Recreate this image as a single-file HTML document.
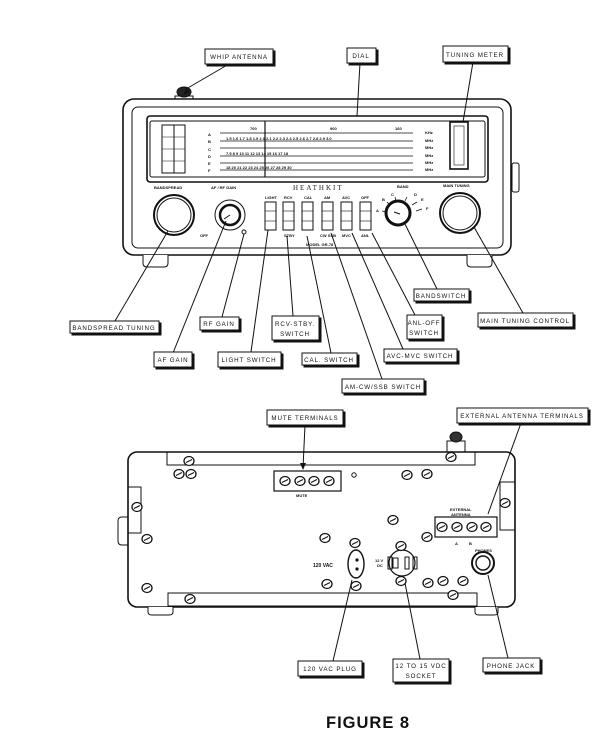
<!DOCTYPE html>
<html><head><meta charset="utf-8"><style>
html,body{margin:0;padding:0;background:#fff;}
svg{display:block;}
text{font-family:"Liberation Sans",sans-serif;}
.lb{font-size:6.2px;letter-spacing:0.9px;fill:#111;}
.sm{font-size:4px;font-weight:bold;fill:#111;}
</style></head><body>
<svg width="600" height="756" viewBox="0 0 600 756" xmlns="http://www.w3.org/2000/svg">
<defs>
<g id="scr"><ellipse rx="5" ry="4.5" fill="#fff" stroke="#111" stroke-width="1.3"/><line x1="-3" y1="1.5" x2="3" y2="-1.5" stroke="#111" stroke-width="1"/></g>
</defs>
<g fill="none" stroke="#111" stroke-width="1">
<!-- FRONT -->
<rect x="175" y="96" width="18" height="7" fill="#fff"/>
<ellipse cx="184" cy="92" rx="7" ry="5" fill="#222"/>
<rect x="123" y="99" width="388" height="156" rx="11" stroke-width="1.6" fill="#fff"/>
<rect x="132" y="107" width="371" height="141" rx="6"/>
<rect x="512" y="163" width="7" height="29" rx="2"/>
<path d="M143 255 v8 q0 4 4 4 h17 q4 0 4-4 v-8" fill="#fff"/>
<path d="M467 255 v8 q0 4 4 4 h17 q4 0 4-4 v-8" fill="#fff"/>
<rect x="147" y="116" width="341" height="66" rx="3" stroke-width="1.6"/>
<rect x="150" y="121" width="335" height="56" rx="2"/>
<rect x="162" y="125" width="23" height="48"/>
<line x1="174" y1="125" x2="174" y2="173"/>
<line x1="162" y1="137" x2="185" y2="137" stroke-width=".6"/>
<line x1="162" y1="149" x2="185" y2="149" stroke-width=".6"/>
<line x1="162" y1="161" x2="185" y2="161" stroke-width=".6"/>
<g stroke-width=".7">
<line x1="220" y1="133" x2="413" y2="133"/><line x1="220" y1="141" x2="413" y2="141"/>
<line x1="220" y1="148" x2="413" y2="148"/><line x1="220" y1="156" x2="413" y2="156"/>
<line x1="220" y1="163" x2="413" y2="163"/><line x1="220" y1="170" x2="413" y2="170"/>
</g>
<line x1="265" y1="121" x2="265" y2="177" stroke-width="1.2"/>
<rect x="450" y="122" width="18" height="47" stroke-width="1.6"/>
<rect x="454" y="126" width="10" height="39" stroke-width=".6"/>
<circle cx="174" cy="215" r="20" stroke-width="2"/>
<circle cx="174" cy="215" r="17"/>
<circle cx="230" cy="215" r="15"/>
<circle cx="230" cy="215" r="10" stroke-width="2.5"/>
<line x1="224" y1="219" x2="230" y2="215"/>
<circle cx="244" cy="232" r="2"/>
<g fill="#fff">
<rect x="265" y="202" width="11" height="28"/><rect x="283" y="202" width="11" height="28"/>
<rect x="302" y="202" width="11" height="28"/><rect x="322" y="202" width="11" height="28"/>
<rect x="341" y="202" width="11" height="28"/><rect x="360" y="202" width="11" height="28"/>
</g>
<g stroke-width=".6">
<line x1="265" y1="211" x2="276" y2="211"/><line x1="265" y1="221" x2="276" y2="221"/>
<line x1="283" y1="211" x2="294" y2="211"/><line x1="283" y1="221" x2="294" y2="221"/>
<line x1="302" y1="211" x2="313" y2="211"/><line x1="302" y1="221" x2="313" y2="221"/>
<line x1="322" y1="211" x2="333" y2="211"/><line x1="322" y1="221" x2="333" y2="221"/>
<line x1="341" y1="211" x2="352" y2="211"/><line x1="341" y1="221" x2="352" y2="221"/>
<line x1="360" y1="211" x2="371" y2="211"/><line x1="360" y1="221" x2="371" y2="221"/>
</g>
<circle cx="398" cy="213" r="12" stroke-width="3"/>
<line x1="394" y1="212" x2="400" y2="214"/>
<g stroke-width=".8"><line x1="382" y1="211" x2="386" y2="212"/><line x1="387" y1="202" x2="390" y2="205"/>
<line x1="395" y1="197" x2="396" y2="201"/><line x1="407" y1="197" x2="405" y2="201"/><line x1="417" y1="202" x2="412" y2="205"/><line x1="422" y1="209" x2="416" y2="211"/></g>
<circle cx="460" cy="213" r="20" stroke-width="2"/>
<circle cx="460" cy="213" r="17"/>
<!-- front leaders -->
<line x1="229" y1="64" x2="186" y2="89"/>
<line x1="360" y1="63" x2="357" y2="116"/>
<line x1="473" y1="62" x2="463" y2="122"/>
<line x1="168" y1="231" x2="115" y2="321"/>
<line x1="226" y1="221" x2="173" y2="353"/>
<line x1="244" y1="234" x2="222" y2="317"/>
<line x1="268" y1="230" x2="251" y2="352"/>
<line x1="287" y1="236" x2="293" y2="316"/>
<line x1="307" y1="236" x2="331" y2="353"/>
<line x1="331" y1="233" x2="382" y2="379"/>
<line x1="352" y1="233" x2="403" y2="349"/>
<line x1="372" y1="233" x2="415" y2="315"/>
<line x1="405" y1="224" x2="437" y2="289"/>
<line x1="474" y1="227" x2="523" y2="313"/>
<!-- BACK -->
<rect x="447" y="441" width="18" height="11" fill="#fff"/>
<ellipse cx="456" cy="437" rx="6" ry="5" fill="#333"/>
<rect x="128" y="452" width="387" height="155" rx="9" stroke-width="1.6" fill="#fff"/>
<path d="M148 607 v5 q0 3 4 3 h17 q4 0 4-3 v-5" fill="#fff"/>
<path d="M475 607 v5 q0 3 4 3 h15 q4 0 4-3 v-5" fill="#fff"/>
<rect x="167" y="452" width="308" height="13"/>
<rect x="168" y="593" width="309" height="13"/>
<rect x="128" y="487" width="13" height="46"/>
<path d="M128 517 h-6 q-4 0 -4 4 v20 q0 4 4 4 h6"/>
<rect x="500" y="482" width="15" height="48"/>
<rect x="274" y="471" width="67" height="20" stroke-width="1.2"/>
<rect x="435" y="517" width="62" height="20" stroke-width="1.2"/>
<circle cx="354" cy="475" r="2.2"/>
<ellipse cx="356" cy="564" rx="8" ry="14" stroke-width="1.4"/>
<circle cx="402" cy="563" r="13" stroke-width="1.2"/>
<rect x="393" y="558" width="5" height="10"/><rect x="405" y="557" width="4" height="12"/>
<rect x="388" y="557" width="4" height="12"/><rect x="413" y="557" width="4" height="12"/>
<circle cx="483" cy="563" r="11" stroke-width="2"/>
<circle cx="483" cy="563" r="7" stroke-width="1.4"/>
<line x1="305" y1="425" x2="303" y2="468"/>
<line x1="521" y1="423" x2="488" y2="514"/>
<line x1="333" y1="661" x2="352" y2="580"/>
<line x1="420" y1="659" x2="404" y2="578"/>
<line x1="508" y1="658" x2="488" y2="575"/>
</g>
<polygon points="186,89 183,95 190,92" fill="#111"/>
<polygon points="303,470 300,463 306,463" fill="#111"/>
<circle cx="357" cy="560" r="1.6" fill="#111"/><circle cx="357" cy="569" r="1.6" fill="#111"/>
<g>
<use href="#scr" x="285" y="481"/><use href="#scr" x="300" y="481"/><use href="#scr" x="314" y="481"/><use href="#scr" x="329" y="481"/>
<use href="#scr" x="442" y="527"/><use href="#scr" x="457" y="527"/><use href="#scr" x="472" y="527"/><use href="#scr" x="486" y="527"/>
<use href="#scr" x="189" y="461"/><use href="#scr" x="179" y="474"/><use href="#scr" x="191" y="474"/>
<use href="#scr" x="407" y="475"/><use href="#scr" x="427" y="474"/><use href="#scr" x="451" y="457"/>
<use href="#scr" x="137" y="507"/><use href="#scr" x="505" y="503"/><use href="#scr" x="147" y="539"/>
<use href="#scr" x="393" y="520"/><use href="#scr" x="427" y="537"/><use href="#scr" x="325" y="538"/>
<use href="#scr" x="355" y="543"/><use href="#scr" x="401" y="546"/><use href="#scr" x="401" y="581"/>
<use href="#scr" x="356" y="586"/><use href="#scr" x="327" y="584"/><use href="#scr" x="428" y="583"/>
<use href="#scr" x="443" y="581"/><use href="#scr" x="463" y="581"/><use href="#scr" x="147" y="588"/>
<use href="#scr" x="190" y="599"/><use href="#scr" x="453" y="595"/>
</g>
<!-- small text -->
<g class="sm">
<text x="208" y="136">A</text><text x="208" y="143">B</text><text x="208" y="151">C</text>
<text x="208" y="158">D</text><text x="208" y="165">E</text><text x="208" y="172">F</text>
<text x="250" y="130">700</text><text x="330" y="130">900</text><text x="395" y="130">160</text>
<text x="425" y="134">KHz</text><text x="425" y="142">MHz</text><text x="425" y="149">MHz</text>
<text x="425" y="157">MHz</text><text x="425" y="164">MHz</text><text x="425" y="171">MHz</text>
<text x="226" y="140">1.5 1.6 1.7 1.8 1.9 2.0 2.1 2.2 2.3 2.4 2.5 2.6 2.7 2.8 2.9 3.0</text>
<text x="226" y="155">7.5 8 9 10 11 12 13 14 15 16 17 18</text>
<text x="226" y="169">18 20 21 22 23 24 25 26 27 28 29 30</text>
<text x="154" y="189">BANDSPREAD</text><text x="211" y="189">AF / RF GAIN</text>
<text x="397" y="188">BAND</text><text x="443" y="187">MAIN TUNING</text>
<text x="200" y="237">OFF</text>
<text x="265" y="199">LIGHT</text><text x="284" y="199">RCV</text><text x="304" y="199">CAL</text>
<text x="324" y="199">AM</text><text x="342" y="199">AVC</text><text x="361" y="199">OFF</text>
<text x="284" y="237">STBY</text><text x="320" y="237">CW SSB</text><text x="342" y="237">MVC</text><text x="361" y="237">ANL</text>
<text x="306" y="246">MODEL GR-78</text>
<text x="376" y="212">A</text><text x="382" y="201">B</text><text x="391" y="196">C</text>
<text x="414" y="196">D</text><text x="421" y="201">E</text><text x="426" y="210">F</text>
<text x="296" y="497">MUTE</text>
<text x="450" y="511">EXTERNAL</text><text x="451" y="516">ANTENNA</text>
<text x="455" y="545">A</text><text x="469" y="545">B</text>
<text x="475" y="552">PHONES</text>
<text x="375" y="562">12 V</text><text x="377" y="567">DC</text>
</g>
<text x="293" y="190" style="font-family:'Liberation Serif',serif;font-size:7px;letter-spacing:2px;fill:#222">HEATHKIT</text>
<text x="313" y="567" style="font-size:5px;font-weight:bold;fill:#111">120 VAC</text>
<!-- labels -->
<g stroke="#111" fill="#fff">
<rect x="207" y="51" width="68" height="15" fill="#111"/><rect x="205" y="49" width="68" height="15"/>
<rect x="349" y="50" width="29" height="15" fill="#111"/><rect x="347" y="48" width="29" height="15"/>
<rect x="445" y="48" width="65" height="16" fill="#111"/><rect x="443" y="46" width="65" height="16"/>
<rect x="72" y="323" width="89" height="12" fill="#111"/><rect x="70" y="321" width="89" height="12"/>
<rect x="202" y="319" width="39" height="13" fill="#111"/><rect x="200" y="317" width="39" height="13"/>
<rect x="156" y="354" width="38" height="15" fill="#111"/><rect x="154" y="352" width="38" height="15"/>
<rect x="220" y="354" width="63" height="15" fill="#111"/><rect x="218" y="352" width="63" height="15"/>
<rect x="274" y="318" width="47" height="24" fill="#111"/><rect x="272" y="316" width="47" height="24"/>
<rect x="304" y="355" width="55" height="12" fill="#111"/><rect x="302" y="353" width="55" height="12"/>
<rect x="344" y="381" width="82" height="14" fill="#111"/><rect x="342" y="379" width="82" height="14"/>
<rect x="386" y="351" width="73" height="13" fill="#111"/><rect x="384" y="349" width="73" height="13"/>
<rect x="409" y="317" width="35" height="24" fill="#111"/><rect x="407" y="315" width="35" height="24"/>
<rect x="416" y="291" width="55" height="12" fill="#111"/><rect x="414" y="289" width="55" height="12"/>
<rect x="480" y="315" width="95" height="14" fill="#111"/><rect x="478" y="313" width="95" height="14"/>
<rect x="269" y="412" width="76" height="15" fill="#111"/><rect x="267" y="410" width="76" height="15"/>
<rect x="459" y="410" width="131" height="15" fill="#111"/><rect x="457" y="408" width="131" height="15"/>
<rect x="300" y="663" width="64" height="15" fill="#111"/><rect x="298" y="661" width="64" height="15"/>
<rect x="395" y="661" width="56" height="23" fill="#111"/><rect x="393" y="659" width="56" height="23"/>
<rect x="485" y="660" width="57" height="14" fill="#111"/><rect x="483" y="658" width="57" height="14"/>
</g>
<g class="lb" text-anchor="middle">
<text x="239" y="59">WHIP ANTENNA</text>
<text x="361" y="58">DIAL</text>
<text x="475" y="57">TUNING METER</text>
<text x="114" y="330">BANDSPREAD TUNING</text>
<text x="219" y="326">RF GAIN</text>
<text x="173" y="362">AF GAIN</text>
<text x="249" y="362">LIGHT SWITCH</text>
<text x="295" y="326">RCV-STBY.</text><text x="295" y="336">SWITCH</text>
<text x="329" y="362">CAL. SWITCH</text>
<text x="383" y="389">AM-CW/SSB SWITCH</text>
<text x="420" y="358">AVC-MVC SWITCH</text>
<text x="424" y="325">ANL-OFF</text><text x="424" y="335">SWITCH</text>
<text x="441" y="298">BANDSWITCH</text>
<text x="525" y="323">MAIN TUNING CONTROL</text>
<text x="305" y="420">MUTE TERMINALS</text>
<text x="522" y="418">EXTERNAL ANTENNA TERMINALS</text>
<text x="330" y="671">120 VAC PLUG</text>
<text x="421" y="668">12 TO 15 VDC</text><text x="421" y="678">SOCKET</text>
<text x="511" y="668">PHONE JACK</text>
</g>
<text x="326" y="728" style="font-size:16.5px;font-weight:bold;letter-spacing:1px;fill:#111">FIGURE 8</text>
</svg>
</body></html>
